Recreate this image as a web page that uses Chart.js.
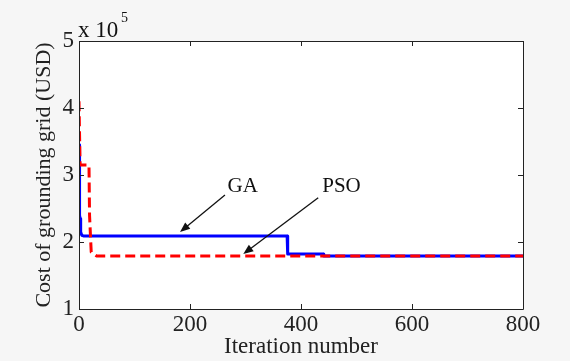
<!DOCTYPE html>
<html><head><meta charset="utf-8">
<script src="https://cdn.jsdelivr.net/npm/chart.js@4/dist/chart.umd.min.js"></script>
<style>html,body{margin:0;padding:0;background:#f6f6f6;}#w{width:570px;height:361px;}</style>
</head><body><div id="w"><canvas id="c" width="570" height="361"></canvas></div>
<script>
// Values in units of 10^5 USD
const gaIter = [0, 1, 2, 3, 5, 8, 375, 376, 440, 441, 800];
const gaCost = [3.45, 2.4, 2.35, 2.15, 2.1, 2.09, 2.09, 1.82, 1.82, 1.79, 1.79];
const psoIter = [0, 1, 2, 18, 19, 22, 32, 800];
const psoCost = [4.1, 3.6, 3.15, 3.15, 2.4, 1.85, 1.79, 1.79];
const xTicks = [0, 200, 400, 600, 800];
const yTicks = [1, 2, 3, 4, 5];
const labels = [
  {text: 'GA', x: 295, y: 2.83, ax: 263, ay: 2.70, bx: 182, by: 2.15},
  {text: 'PSO', x: 473, y: 2.83, ax: 431, ay: 2.66, bx: 296, by: 1.82}
];
const FONT = '"Liberation Serif", "DejaVu Serif", serif';

const pts = (xs, ys) => xs.map((x, i) => ({x, y: ys[i]}));

const framePlugin = {
  id: 'frame',
  beforeDraw(chart) {
    const {ctx, chartArea: a} = chart;
    ctx.save();
    ctx.fillStyle = '#ffffff';
    ctx.fillRect(a.left, a.top, a.right - a.left, a.bottom - a.top);
    ctx.restore();
  },
  afterDatasetsDraw(chart) {
    const {ctx, chartArea: a, scales} = chart;
    ctx.save();
    ctx.strokeStyle = '#222';
    ctx.lineWidth = 1;
    ctx.beginPath();
    ctx.moveTo(a.left + 0.5, a.top + 0.5);
    ctx.lineTo(a.right + 0.5, a.top + 0.5);
    ctx.lineTo(a.right + 0.5, a.bottom + 0.5);
    ctx.lineTo(a.left + 0.5, a.bottom + 0.5);
    ctx.closePath();
    ctx.stroke();
    const L = 5;
    xTicks.forEach(v => {
      const px = Math.round(scales.x.getPixelForValue(v)) + 0.5;
      ctx.beginPath();
      ctx.moveTo(px, a.bottom); ctx.lineTo(px, a.bottom - L);
      ctx.moveTo(px, a.top); ctx.lineTo(px, a.top + L);
      ctx.stroke();
    });
    yTicks.forEach(v => {
      const py = Math.round(scales.y.getPixelForValue(v)) + 0.5;
      ctx.beginPath();
      ctx.moveTo(a.left, py); ctx.lineTo(a.left + L, py);
      ctx.moveTo(a.right, py); ctx.lineTo(a.right - L, py);
      ctx.stroke();
    });
    // annotations
    ctx.fillStyle = '#111';
    ctx.strokeStyle = '#111';
    ctx.font = '21px ' + FONT;
    ctx.textAlign = 'center';
    ctx.textBaseline = 'middle';
    labels.forEach(l => {
      ctx.fillText(l.text, scales.x.getPixelForValue(l.x), scales.y.getPixelForValue(l.y));
      const x1 = scales.x.getPixelForValue(l.ax), y1 = scales.y.getPixelForValue(l.ay);
      const x2 = scales.x.getPixelForValue(l.bx), y2 = scales.y.getPixelForValue(l.by);
      const ang = Math.atan2(y2 - y1, x2 - x1);
      const hl = 10, hw = 4;
      ctx.lineWidth = 1.3;
      ctx.beginPath();
      ctx.moveTo(x1, y1);
      ctx.lineTo(x2 - hl * 0.8 * Math.cos(ang), y2 - hl * 0.8 * Math.sin(ang));
      ctx.stroke();
      ctx.beginPath();
      ctx.moveTo(x2, y2);
      ctx.lineTo(x2 - hl * Math.cos(ang) + hw * Math.sin(ang), y2 - hl * Math.sin(ang) - hw * Math.cos(ang));
      ctx.lineTo(x2 - hl * Math.cos(ang) - hw * Math.sin(ang), y2 - hl * Math.sin(ang) + hw * Math.cos(ang));
      ctx.closePath();
      ctx.fill();
    });
    // exponent label
    ctx.textAlign = 'left';
    ctx.textBaseline = 'alphabetic';
    ctx.font = '23px ' + FONT;
    ctx.fillText('x 10', a.left - 1, a.top - 4);
    ctx.font = '14px ' + FONT;
    ctx.fillText('5', a.left + 42, a.top - 19);
    ctx.restore();
  }
};

new Chart(document.getElementById('c'), {
  type: 'line',
  data: {
    datasets: [
      {label: 'GA', data: pts(gaIter, gaCost), borderColor: '#0000ff', borderWidth: 3, borderJoinStyle: 'round', pointRadius: 0, fill: false, tension: 0, order: 2},
      {label: 'PSO', data: pts(psoIter, psoCost), borderColor: '#ff0000', borderWidth: 3, borderJoinStyle: 'round', borderDash: [10, 5], pointRadius: 0, fill: false, tension: 0, order: 1}
    ]
  },
  options: {
    responsive: false,
    animation: false,
    devicePixelRatio: 1,
    layout: {padding: {top: 41, right: 47, left: 0, bottom: 0}},
    plugins: {legend: {display: false}, tooltip: {enabled: false}},
    scales: {
      x: {
        type: 'linear', min: 0, max: 800,
        afterBuildTicks: s => { s.ticks = xTicks.map(v => ({value: v})); },
        afterFit: s => { s.height = 52; },
        grid: {display: false, drawTicks: false},
        border: {display: false},
        ticks: {color: '#222', font: {family: FONT, size: 23}, padding: 2, maxRotation: 0},
        title: {display: true, text: 'Iteration number', color: '#222', font: {family: FONT, size: 23}, padding: {top: 0, bottom: 0}}
      },
      y: {
        type: 'linear', min: 1, max: 5,
        afterBuildTicks: s => { s.ticks = yTicks.map(v => ({value: v})); },
        afterFit: s => { s.width = 79; },
        grid: {display: false, drawTicks: false},
        border: {display: false},
        ticks: {color: '#222', font: {family: FONT, size: 23}, padding: 5},
        title: {display: true, text: 'Cost of grounding grid (USD)', color: '#222', font: {family: FONT, size: 22}, padding: {top: 31, bottom: 0}}
      }
    }
  },
  plugins: [framePlugin]
});
</script>
</body></html>
